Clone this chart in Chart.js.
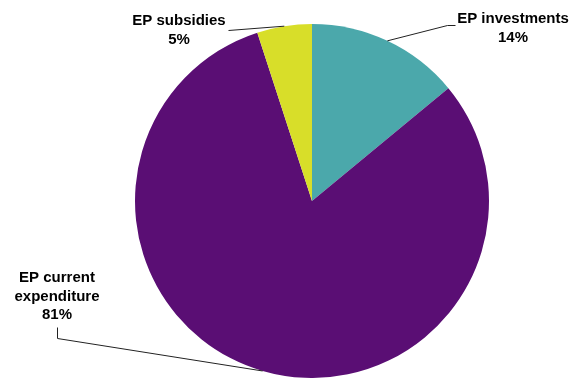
<!DOCTYPE html>
<html>
<head>
<meta charset="utf-8">
<script src="https://cdn.jsdelivr.net/npm/chart.js@4/dist/chart.umd.min.js"></script>
<style>
html,body{margin:0;padding:0;background:#fff;}
#wrap{width:581px;height:378px;position:relative;}
</style>
</head>
<body>
<div id="wrap"><canvas id="c" width="581" height="378"></canvas></div>
<script>
const categories = ["EP investments", "EP current expenditure", "EP subsidies"];
const shares = [14, 81, 5];
const labelLines = [["EP investments", "14%"], ["EP current", "expenditure", "81%"], ["EP subsidies", "5%"]];
const colors = ["#4BA8AB", "#5A0E74", "#D8DE29"];

// label placement (layout only): text centre x, first baseline y, elbow points
const labelLayout = [
  {x: 513, y: 23, elbow: [[447, 25], [455, 25]]},
  {x: 57, y: 282, elbow: [[57, 338], [57, 327]]},
  {x: 179, y: 25, elbow: [[228, 30]]}
];

const labelPlugin = {
  id: 'pieLabels',
  afterDraw(chart) {
    const ctx = chart.ctx;
    const meta = chart.getDatasetMeta(0);
    ctx.save();
    meta.data.forEach((arc, i) => {
      const p = arc.getProps(['x','y','startAngle','endAngle','outerRadius'], true);
      const mid = (p.startAngle + p.endAngle) / 2;
      const sx = p.x + Math.cos(mid) * p.outerRadius;
      const sy = p.y + Math.sin(mid) * p.outerRadius;
      const L = labelLayout[i];
      ctx.strokeStyle = '#222';
      ctx.lineWidth = 1;
      ctx.beginPath();
      ctx.moveTo(sx, sy);
      L.elbow.forEach(pt => ctx.lineTo(pt[0] + 0.5, pt[1] + 0.5));
      ctx.stroke();
      ctx.fillStyle = '#000';
      ctx.font = 'bold 15px "Liberation Sans", Arial, sans-serif';
      ctx.textAlign = 'center';
      ctx.textBaseline = 'alphabetic';
      const lines = labelLines[i].slice(0, -1).concat([Math.round(chart.data.datasets[0].data[i]) + '%']);
      lines.forEach((t, k) => ctx.fillText(t, L.x, L.y + k * 18.5));
    });
    ctx.restore();
  }
};

new Chart(document.getElementById('c'), {
  type: 'pie',
  data: {
    labels: categories,
    datasets: [{
      data: shares,
      backgroundColor: colors,
      borderWidth: 0
    }]
  },
  options: {
    responsive: false,
    animation: false,
    layout: {padding: {left: 135, right: 92, top: 24, bottom: 0}},
    plugins: {legend: {display: false}, tooltip: {enabled: false}}
  },
  plugins: [labelPlugin]
});
</script>
</body>
</html>
